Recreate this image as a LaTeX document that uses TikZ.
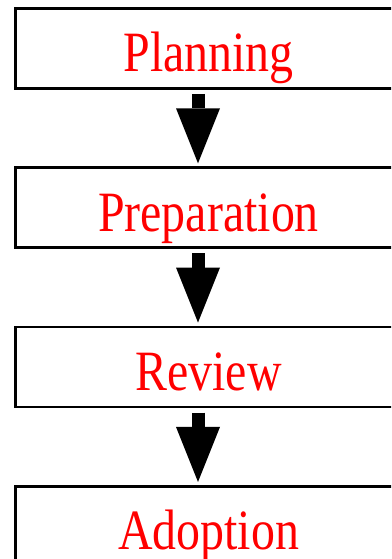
\documentclass[tikz,border=0pt]{standalone}
\usepackage{fontspec}
\newfontfamily\stagefont[FakeStretch=0.84]{Liberation Serif}
\usetikzlibrary{positioning,arrows.meta}
\tikzset{
  stage/.style={draw, line width=2.7pt, outer sep=0pt, inner sep=0pt,
    minimum width=386pt, minimum height=80pt, text height=47pt, text depth=0pt,
    font=\stagefont\fontsize{57}{57}\selectfont, text=red},
  flow/.style={line width=13pt, -{Triangle[width=44pt,length=55pt,line width=0pt]}}
}
\begin{document}
\begin{tikzpicture}[x=1pt, y=1pt, node distance=79.3pt]
    % Page frame, cut at the right and bottom
    \useasboundingbox (0,0) rectangle (391,559);
    \clip (0,0) rectangle (391,559);

    % The four stages
    \node[stage] (plan) at (208.5, 510.5) {Planning};
    \node[stage, below=of plan] (prep) {Preparation};
    \node[stage, below=of prep] (review) {Review};
    \node[stage, below=of review] (adopt) {Adoption};

    % Ends of the block arrows
    \coordinate (a1) at ([xshift=-10.5pt, yshift=-5.5pt]plan.south);
    \coordinate (b1) at ([xshift=-10.5pt, yshift=4.5pt]prep.north);
    \coordinate (a2) at ([xshift=-10.5pt, yshift=-5.5pt]prep.south);
    \coordinate (b2) at ([xshift=-10.5pt, yshift=4.5pt]review.north);
    \coordinate (a3) at ([xshift=-10.5pt, yshift=-5.5pt]review.south);
    \coordinate (b3) at ([xshift=-10.5pt, yshift=4.5pt]adopt.north);

    % Block arrows between stages
    \draw[flow] (a1) -- (b1);
    \draw[flow] (a2) -- (b2);
    \draw[flow] (a3) -- (b3);
\end{tikzpicture}
\end{document}
